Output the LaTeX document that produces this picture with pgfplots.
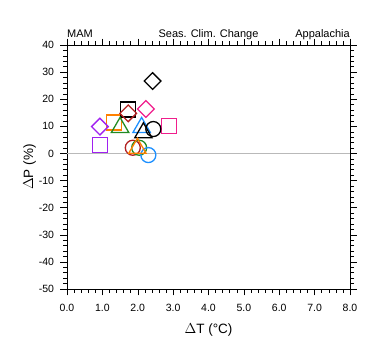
\documentclass[border=0pt]{standalone}
\usepackage{pgfplots}
\pgfplotsset{compat=1.18}
\usepackage{fontspec}
\setmainfont{Liberation Sans}
\usetikzlibrary{calc}
\definecolor{cfire}{RGB}{178,34,34}
\definecolor{cpink}{RGB}{240,30,140}
\definecolor{corange}{RGB}{255,128,0}
\definecolor{cpurple}{RGB}{160,32,240}
\definecolor{cgreen}{RGB}{34,139,34}
\definecolor{cblue}{RGB}{30,144,255}
\begin{document}
\begin{tikzpicture}
\begin{axis}[
  name=ax,
  scale only axis,
  width=283pt, height=244pt,
  xmin=0, xmax=8, ymin=-50, ymax=40,
  xtick={0,1,...,8}, ytick={-50,-40,...,40},
  minor x tick num=4, minor y tick num=4,
  tick align=outside, xtick pos=both, ytick pos=both,
  major tick length=6.5pt, minor tick length=4pt,
  tick style={black, line width=0.5pt},
  axis line style={line width=0.8pt},
  /pgf/number format/assume math mode=true,
  ticklabel style={font=\fontsize{10.5}{12}\selectfont},
  xticklabel style={yshift=-5pt, /pgf/number format/.cd, fixed, fixed zerofill, precision=1},
  yticklabel style={xshift=-3pt, /pgf/number format/.cd, fixed, precision=0},
  xlabel={$\Delta$T (°C)}, ylabel={$\Delta$P (\%)},
  label style={font=\fontsize{13.5}{15}\selectfont},
  xlabel style={yshift=-5pt},
  ylabel style={yshift=-4pt},
  clip=false,
  every axis plot/.append style={line width=1.3pt},
]
\addplot[gray!55, line width=1.4pt] coordinates {(0,0) (8,0)};
% squares
\addplot[only marks, mark=square, mark size=7.5pt, cpurple] coordinates {(0.93,3.1)};
\addplot[only marks, mark=square, mark size=7.5pt, corange] coordinates {(1.33,11.4)};
\addplot[only marks, mark=square, mark size=7.5pt, black] coordinates {(1.73,16.2)};
\addplot[only marks, mark=square, mark size=7.5pt, cpink] coordinates {(2.89,10.1)};
% diamonds
\addplot[only marks, mark=square, mark size=5.9pt, mark options={rotate=45}, cpurple] coordinates {(0.93,9.9)};
\addplot[only marks, mark=square, mark size=5.9pt, mark options={rotate=45}, cfire] coordinates {(1.73,14.8)};
\addplot[only marks, mark=square, mark size=5.9pt, mark options={rotate=45}, cpink] coordinates {(2.23,16.4)};
\addplot[only marks, mark=square, mark size=5.9pt, mark options={rotate=45}, black] coordinates {(2.42,26.7)};
% triangles
\addplot[only marks, mark=triangle, mark size=10pt, cgreen] coordinates {(1.5,9.6)};
\addplot[only marks, mark=triangle, mark size=10pt, cblue] coordinates {(2.11,9.6)};
\addplot[only marks, mark=triangle, mark size=10pt, black] coordinates {(2.16,7.6)};
% circles
\addplot[only marks, mark=o, mark size=7.5pt, black] coordinates {(2.44,9.0)};
\addplot[only marks, mark=o, mark size=7.5pt, cfire] coordinates {(1.86,2.1)};
\addplot[only marks, mark=o, mark size=7.5pt, cgreen] coordinates {(2.04,2.1)};
\addplot[only marks, mark=o, mark size=7.5pt, cblue] coordinates {(2.30,-0.6)};
\addplot[only marks, mark=triangle, mark size=10pt, corange] coordinates {(1.99,1.9)};
\node[anchor=base west, font=\fontsize{11}{12}\selectfont, inner sep=0pt] at ($(rel axis cs:0,1)+(0pt,8pt)$) {MAM};
\node[anchor=base, font=\fontsize{11}{12}\selectfont, inner sep=0pt] at ($(rel axis cs:0.5,1)+(0pt,8pt)$) {Seas. Clim. Change};
\node[anchor=base east, font=\fontsize{11}{12}\selectfont, inner sep=0pt] at ($(rel axis cs:1,1)+(0pt,8pt)$) {Appalachia};
\coordinate (O) at (rel axis cs:0,0);
\end{axis}
\path[use as bounding box] ($(O)+(-67pt,-66pt)$) rectangle ($(O)+(313pt,289pt)$);
\end{tikzpicture}
\end{document}
